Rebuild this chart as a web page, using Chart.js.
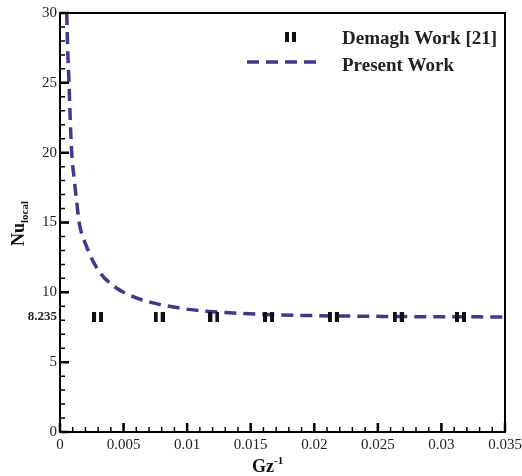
<!DOCTYPE html>
<html><head><meta charset="utf-8">
<script src="https://cdn.jsdelivr.net/npm/chart.js@4.4.1/dist/chart.umd.min.js"></script>
<style>html,body{margin:0;padding:0;background:#fff}#wrap{width:522px;height:476px}</style>
</head><body><div id="wrap"><canvas id="c" width="522" height="476"></canvas></div>
<script>
// Present Work curve (Gz^-1, Nu_local)
const presentX = [0.00053,0.0006,0.00071,0.0008,0.00092,0.00113,0.0013,0.0015,0.0021,0.003,0.0043,0.0059,0.0075,0.0101,0.013,0.016,0.02,0.025,0.03,0.035];
const presentY = [30,27.5,25,22.5,20,18,16.6,15.05,13.26,11.6,10.4,9.64,9.21,8.78,8.55,8.42,8.33,8.28,8.25,8.24];
// Demagh Work [21]
const demaghX = [0.00295,0.0078,0.0121,0.0164,0.0215,0.0266,0.0315];
const demaghY = [8.235,8.235,8.235,8.235,8.235,8.235,8.235];
const yTicks = [0,5,8.235,10,15,20,25,30];
const xTicks = [0,0.005,0.01,0.015,0.02,0.025,0.03,0.035];
const labels = ['Demagh Work [21]','Present Work'];

const LINE = '#3b3b8e';
const mk = document.createElement('canvas');
mk.width = 11; mk.height = 10;
const mctx = mk.getContext('2d');
mctx.fillStyle = '#111';
mctx.fillRect(0,0,4,10); mctx.fillRect(7,0,4,10);

const SERIF = '"Liberation Serif", "Times New Roman", serif';

const framePlugin = {
  id:'frame',
  afterDatasetsDraw(chart){
    const {ctx, chartArea:a, scales:{x,y}} = chart;
    ctx.save();
    ctx.strokeStyle = '#000';
    ctx.lineWidth = 2;
    ctx.strokeRect(a.left, a.top, a.right-a.left, a.bottom-a.top);
    ctx.lineWidth = 1.5;
    ctx.beginPath();
    for (let v=0; v<=30; v++){
      const py = y.getPixelForValue(v);
      const len = (v%5===0) ? 9 : 5;
      ctx.moveTo(a.left, py); ctx.lineTo(a.left+len, py);
    }
    for (let i=0; i<=35; i++){
      const px = x.getPixelForValue(i/1000);
      const len = (i%5===0) ? 9 : 5;
      ctx.moveTo(px, a.bottom); ctx.lineTo(px, a.bottom-len);
    }
    ctx.stroke();
    ctx.lineWidth = 2.5;
    ctx.beginPath();
    for (let v=0; v<=30; v+=5){
      const py = y.getPixelForValue(v);
      ctx.moveTo(a.left, py); ctx.lineTo(a.left+9, py);
    }
    for (let i=0; i<=35; i+=5){
      const px = x.getPixelForValue(i/1000);
      ctx.moveTo(px, a.bottom); ctx.lineTo(px, a.bottom-9);
    }
    ctx.stroke();

    // legend
    ctx.fillStyle = '#222';
    ctx.font = 'bold 19px ' + SERIF;
    ctx.textBaseline = 'middle';
    ctx.textAlign = 'left';
    ctx.drawImage(mk, 285, 32);
    ctx.fillText(labels[0], 342, 39);
    ctx.strokeStyle = LINE; ctx.lineWidth = 3.5; ctx.setLineDash([12,7]);
    ctx.beginPath(); ctx.moveTo(247,62); ctx.lineTo(321,62); ctx.stroke();
    ctx.setLineDash([]);
    ctx.fillText(labels[1], 342, 66);

    // axis titles
    ctx.fillStyle = '#111';
    ctx.textAlign = 'left';
    ctx.textBaseline = 'alphabetic';
    ctx.font = 'bold 18px ' + SERIF;
    const gw = ctx.measureText('Gz').width;
    ctx.fillText('Gz', 252, 472);
    ctx.font = 'bold 11px ' + SERIF;
    ctx.fillText('-1', 252+gw, 464);

    ctx.save();
    ctx.translate(24, 246);
    ctx.rotate(-Math.PI/2);
    ctx.font = 'bold 18px ' + SERIF;
    const nw = ctx.measureText('Nu').width;
    ctx.fillText('Nu', 0, 0);
    ctx.font = 'bold 11px ' + SERIF;
    ctx.fillText('local', nw, 4);
    ctx.restore();
    ctx.restore();
  }
};

new Chart(document.getElementById('c'), {
  type:'scatter',
  data:{datasets:[
    {label:labels[1], data:presentX.map((v,i)=>({x:v,y:presentY[i]})), showLine:true,
     borderColor:LINE, borderWidth:3.5, borderDash:[12,7], pointRadius:0, tension:0.4,
     cubicInterpolationMode:'monotone', order:2},
    {label:labels[0], data:demaghX.map((v,i)=>({x:v,y:demaghY[i]})), pointStyle:mk, pointRadius:5, order:1}
  ]},
  options:{
    responsive:false, animation:false,
    layout:{padding:{left:0,right:17,top:13,bottom:0}},
    plugins:{legend:{display:false}, tooltip:{enabled:false}},
    scales:{
      x:{type:'linear', min:0, max:0.035,
        afterBuildTicks:s=>{s.ticks = xTicks.map(v=>({value:v}));},
        afterFit:s=>{s.height = 44; s.paddingRight = 0; s.paddingLeft = 0;},
        grid:{display:false, drawTicks:false}, border:{display:false},
        ticks:{padding:4, color:'#222', font:{family:SERIF, size:15}, maxRotation:0,
          callback:v=>String(+v.toFixed(3))}},
      y:{type:'linear', min:0, max:30,
        afterBuildTicks:s=>{s.ticks = yTicks.map(v=>({value:v}));},
        afterFit:s=>{s.width = 60; s.paddingTop = 0; s.paddingBottom = 0;},
        grid:{display:false, drawTicks:false}, border:{display:false},
        ticks:{padding:3, color:'#222',
          font:c=> (c.tick && c.tick.value===8.235) ? {family:SERIF, size:13, weight:'bold'} : {family:SERIF, size:15},
          callback:v=>String(v)}}
    }
  },
  plugins:[framePlugin]
});
</script></body></html>
